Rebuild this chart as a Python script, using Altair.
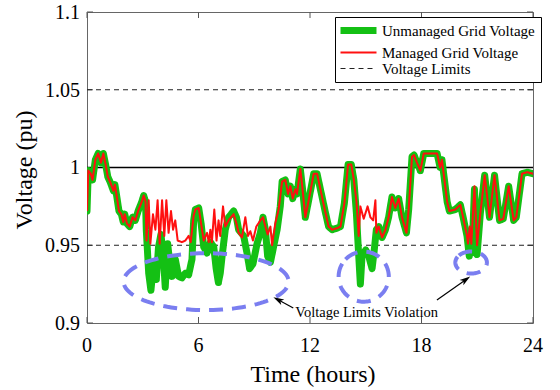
import altair as alt
import pandas as pd
import numpy as np

# ---------------- data ----------------
hours = [0.0, 0.07, 0.2, 0.3, 0.45, 0.6, 0.75, 0.88, 1.0, 1.12, 1.27, 1.42, 1.5, 1.62, 1.72, 1.85, 1.95,
         2.03, 2.15, 2.3, 2.45, 2.6, 2.75, 2.95, 3.05, 3.15,
         3.19, 3.32, 3.44, 3.59, 3.73, 3.85, 3.98, 4.12, 4.21, 4.34, 4.48, 4.57, 4.75, 4.93, 5.11, 5.29,
         5.47, 5.65, 5.74, 5.83, 6.01, 6.14, 6.28, 6.46, 6.64, 6.82, 6.95, 7.07, 7.17, 7.27, 7.44, 7.62,
         7.89, 8.04, 8.16, 8.43, 8.61, 8.75, 8.93, 9.15, 9.33, 9.47, 9.6, 9.72, 9.87, 10.04, 10.23, 10.4,
         10.5, 10.67, 10.82, 10.94, 11.07, 11.21, 11.3, 11.48, 11.6, 11.75, 11.93, 12.2, 12.38, 12.65,
         12.83, 13.0, 13.19, 13.46, 13.64, 13.85, 14.05, 14.22, 14.36, 14.5, 14.6, 14.71, 14.8, 15.0,
         15.16, 15.34, 15.45, 15.57, 15.7, 15.88, 16.06, 16.23, 16.41, 16.59, 16.77, 16.95, 17.19, 17.31,
         17.49, 17.6, 17.76, 17.94, 18.12, 18.84, 19.0, 19.1, 19.38, 19.5, 19.82, 20.09, 20.24, 20.45,
         20.57, 20.66, 20.72, 20.85, 20.99, 21.17, 21.4, 21.66, 21.93, 22.2, 22.4, 22.69, 22.96, 23.1,
         23.41, 23.7, 24.0]
unmanaged = [0.972, 0.998, 0.996, 0.992, 1.005, 1.009, 1.003, 1.009, 1.002, 0.994, 0.990, 0.985, 0.989,
             0.980, 0.972, 0.970, 0.965, 0.970, 0.964, 0.962, 0.968, 0.966, 0.972, 0.978, 0.982, 0.978,
             0.960, 0.932, 0.921, 0.939, 0.928, 0.949, 0.957, 0.941, 0.923, 0.951, 0.936, 0.930, 0.941,
             0.930, 0.929, 0.932, 0.931, 0.941, 0.966, 0.973, 0.974, 0.964, 0.949, 0.945, 0.952, 0.949,
             0.935, 0.926, 0.932, 0.943, 0.960, 0.968, 0.972, 0.968, 0.960, 0.956, 0.945, 0.935, 0.938,
             0.951, 0.958, 0.968, 0.960, 0.943, 0.939, 0.949, 0.960, 0.975,
             0.991, 0.992, 0.983, 0.988, 0.980, 0.986, 0.983, 0.999, 0.986, 0.968, 0.979, 0.996, 0.996,
             0.981, 0.971, 0.962, 0.960, 0.961, 0.962, 0.977, 1.002, 1.002, 0.992, 0.970, 0.948, 0.925,
             0.943, 0.947, 0.943, 0.935, 0.946, 0.960, 0.962, 0.955, 0.960, 0.968, 0.981, 0.974, 0.980,
             0.968, 0.958, 0.973, 1.007, 1.008, 1.003, 0.998, 1.009, 1.009, 1.000, 1.005, 0.978, 0.972,
             0.973, 0.976, 0.968, 0.956, 0.943, 0.955, 0.945, 0.986, 0.944, 0.971, 0.995, 0.968, 0.995,
             0.966, 0.967, 0.988, 0.966, 0.968, 0.996, 0.997, 0.996]

# managed voltage where it departs from the unmanaged one
managed_hours = [3.15, 3.2, 3.32, 3.41, 3.55, 3.68, 3.8, 3.91, 4.04, 4.16, 4.27, 4.39, 4.52, 4.63, 4.75,
                 4.88, 5.11, 5.29, 5.47, 5.58, 5.74, 5.83, 6.01, 6.14, 6.28, 6.46, 6.55, 6.64, 6.72, 6.85,
                 6.97, 7.08, 7.17, 7.32, 7.44, 7.62, 7.89, 8.04, 8.16, 8.34, 8.52, 8.66, 8.79, 8.93, 9.11,
                 9.33, 9.47, 9.6, 9.72, 9.87, 9.96, 10.13, 10.31,
                 14.5, 14.62, 14.71, 14.89, 15.1, 15.25, 15.4, 15.52, 15.57,
                 20.45, 20.5, 20.6, 20.68, 20.85, 20.99]
managed_part = [0.978, 0.953, 0.979, 0.951, 0.970, 0.960, 0.979, 0.951, 0.979, 0.956, 0.979, 0.958, 0.972,
                0.960, 0.966, 0.953, 0.952, 0.953, 0.956, 0.952, 0.969, 0.973, 0.974, 0.964, 0.953, 0.958,
                0.952, 0.960, 0.952, 0.973, 0.953, 0.966, 0.956, 0.975, 0.962, 0.966, 0.970, 0.964, 0.958,
                0.955, 0.968, 0.956, 0.959, 0.953, 0.962, 0.966, 0.968, 0.962, 0.957, 0.962, 0.950, 0.964,
                0.973,
                0.978, 0.956, 0.975, 0.967, 0.975, 0.968, 0.966, 0.979, 0.958,
                0.956, 0.951, 0.962, 0.951, 0.988, 0.950]
managed_ranges = [(3.12, 10.45), (14.45, 15.6), (20.4, 21.1)]

x_ticks = [0, 6, 12, 18, 24]
x_tick_labels = ["0", "6", "12", "18", "24"]
y_ticks = [0.9, 0.95, 1.0, 1.05, 1.1]
y_tick_labels = ["0.9", "0.95", "1", "1.05", "1.1"]
x_title = "Time (hours)"
y_title = "Voltage (pu)"
limit_levels = [1.05, 0.95]
nominal_level = [1.0]

# annotation ellipses (centre hour, centre voltage, half-width hours, half-height pu)
ell_t = [6.41, 14.89, 20.67]
ell_v = [0.9266, 0.9298, 0.9389]
ell_rt = [4.44, 1.35, 0.85]
ell_rv = [0.0183, 0.0161, 0.0071]
note_text = "Voltage Limits Violation"

names = ["Unmanaged Grid Voltage", "Managed Grid Voltage", "Voltage Limits"]

# ---------------- tables ----------------
un_df = pd.DataFrame({"t": hours, "v": unmanaged, "series": names[0]})


def inside(t):
    return any(a < t < b for a, b in managed_ranges)


m_t = [t for t in hours if not inside(t)] + managed_hours
m_v = [v for t, v in zip(hours, unmanaged) if not inside(t)] + managed_part
man_df = pd.DataFrame({"t": m_t, "v": m_v, "series": names[1]}).sort_values("t")

lim_rows = []
for lv in limit_levels:
    for t in (x_ticks[0], x_ticks[-1]):
        lim_rows.append({"t": t, "v": lv, "series": names[2], "lvl": str(lv)})
lim_df = pd.DataFrame(lim_rows)
nom_df = pd.DataFrame({"t": [x_ticks[0], x_ticks[-1]], "v": nominal_level * 2})

ang = np.linspace(0, 2 * np.pi, 121)
ell_rows = []
for k in range(len(ell_t)):
    for i, a in enumerate(ang):
        ell_rows.append({"t": ell_t[k] + ell_rt[k] * np.cos(a + 2.6),
                         "v": ell_v[k] + ell_rv[k] * np.sin(a + 2.6), "e": k, "i": i})
ell_df = pd.DataFrame(ell_rows)

arrow_df = pd.DataFrame({"t": [11.10, 18.83], "v": [0.9096, 0.9148],
                         "t2": [10.31, 20.36], "v2": [0.9148, 0.9277], "ang": [298.6, 54.9]})
text_df = pd.DataFrame({"t": [11.21], "v": [0.9041], "txt": [note_text]})

# ---------------- encodings ----------------
FONT = "Liberation Serif"
xs = alt.Scale(domain=[0, 24], nice=False, zero=False)
ys = alt.Scale(domain=[0.9, 1.1], nice=False, zero=False)
X = alt.X("t:Q", scale=xs, axis=None)
Y = alt.Y("v:Q", scale=ys, axis=None)

legend = alt.Legend(title=None, orient="none", legendX=248, legendY=5, fillColor="white",
                    strokeColor="black", padding=5, labelFont=FONT, labelFontSize=15, labelColor="black",
                    symbolType="M-3.6,0H3.6", symbolSize=100, symbolOffset=10, labelOffset=15,
                    rowPadding=0, labelLimit=300)
color = alt.Color("series:N", scale=alt.Scale(domain=names, range=["#14c014", "#ff1010", "#222222"]),
                  legend=legend)
width = alt.StrokeWidth("series:N", scale=alt.Scale(type="ordinal", domain=names, range=[7, 2, 1.2]),
                        legend=legend)
dash = alt.StrokeDash("series:N", scale=alt.Scale(domain=names, range=[[1, 0], [1, 0], [5, 4]]),
                      legend=legend)

green = alt.Chart(un_df).mark_line(strokeJoin="round", strokeCap="round", clip=True).encode(
    x=X, y=Y, color=color, strokeWidth=width, strokeDash=dash)
red = alt.Chart(man_df).mark_line(strokeJoin="round", clip=True).encode(
    x=X, y=Y, color=color, strokeWidth=width, strokeDash=dash, order="t:Q")
limits = alt.Chart(lim_df).mark_line().encode(
    x=X, y=Y, color=color, strokeWidth=width, strokeDash=dash, detail="lvl:N")
nominal = alt.Chart(nom_df).mark_line(color="black", strokeWidth=1.6).encode(x=X, y=Y)

ellipses = alt.Chart(ell_df).mark_line(color="#7a7ef0", strokeWidth=4, strokeDash=[14, 9]).encode(
    x=X, y=Y, detail="e:N", order="i:Q")
arrows = alt.Chart(arrow_df).mark_rule(color="black", strokeWidth=1.2).encode(
    x=X, y=Y, x2="t2:Q", y2="v2:Q")
heads = alt.Chart(arrow_df).mark_point(shape="M0,-1L0.55,0.8L0,0.35L-0.55,0.8Z", filled=True,
                                        color="black", opacity=1, size=140).encode(
    x=alt.X("t2:Q", scale=xs, axis=None), y=alt.Y("v2:Q", scale=ys, axis=None),
    angle=alt.Angle("ang:Q", scale=None))
note = alt.Chart(text_df).mark_text(font=FONT, fontSize=14.5, align="left", baseline="alphabetic",
                                    color="black").encode(x=X, y=Y, text="txt:N")

# MATLAB-style frame ticks (inside) and serif tick labels / titles
xt = pd.DataFrame({"t": x_ticks, "lab": x_tick_labels})
yt = pd.DataFrame({"v": y_ticks, "lab": y_tick_labels})
tick_bottom = alt.Chart(xt).mark_rule(color="#555").encode(x=X, y=alt.value(311), y2=alt.value(305))
tick_top = alt.Chart(xt).mark_rule(color="#555").encode(x=X, y=alt.value(0), y2=alt.value(6))
tick_left = alt.Chart(yt).mark_rule(color="#555").encode(y=Y, x=alt.value(0), x2=alt.value(6))
tick_right = alt.Chart(yt).mark_rule(color="#555").encode(y=Y, x=alt.value(446), x2=alt.value(440))
x_labels = alt.Chart(xt).mark_text(font=FONT, fontSize=20, color="black", align="center",
                                   baseline="alphabetic").encode(x=X, y=alt.value(340), text="lab:N")
y_labels = alt.Chart(yt).mark_text(font=FONT, fontSize=20, color="black", align="right",
                                   baseline="alphabetic", dy=6.8).encode(y=Y, x=alt.value(-7), text="lab:N")
titles_df = pd.DataFrame({"lab": [x_title]})
x_title_mark = alt.Chart(titles_df).mark_text(font=FONT, fontSize=24, color="black", align="center",
                                              baseline="alphabetic").encode(
    x=alt.value(226), y=alt.value(370), text="lab:N")
y_title_mark = alt.Chart(pd.DataFrame({"lab": [y_title]})).mark_text(
    font=FONT, fontSize=24, color="black", align="center", baseline="alphabetic", angle=270).encode(
    x=alt.value(-55), y=alt.value(158), text="lab:N")

chart = alt.layer(
    tick_bottom, tick_top, tick_left, tick_right,
    limits, nominal, green, red, ellipses, arrows, heads, note,
    x_labels, y_labels, x_title_mark, y_title_mark
).properties(
    width=446, height=311,
    background="white",
    autosize=alt.AutoSizeParams(type="none"),
    padding={"left": 87, "top": 12, "right": 27, "bottom": 67},
).configure_view(
    stroke="#666", strokeWidth=1
)

chart.save("out.html", embed_options={"renderer": "svg", "actions": False})
